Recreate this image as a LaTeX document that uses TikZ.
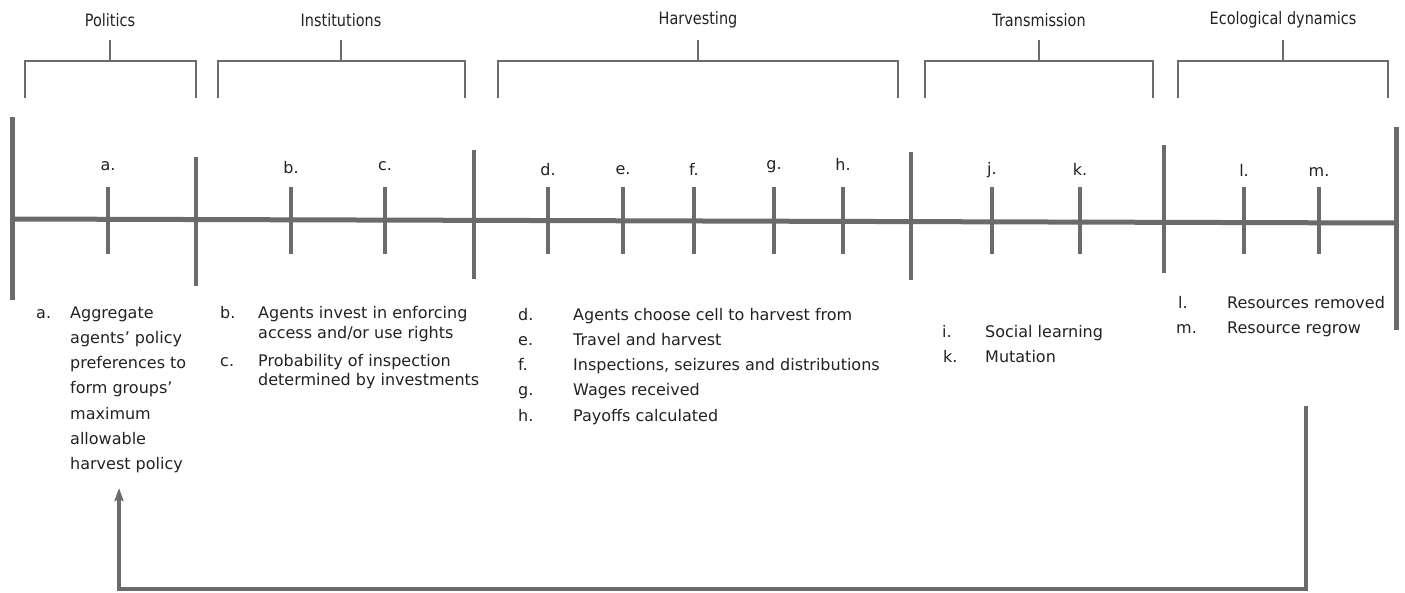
\documentclass[tikz,border=0pt]{standalone}
\usepackage{fontspec}
\setmainfont{DejaVu Sans}
\newfontfamily\titlefont[FakeStretch=0.85]{DejaVu Sans}
\usetikzlibrary{arrows.meta}
\definecolor{linegray}{RGB}{107,107,107}
\definecolor{textgray}{RGB}{34,34,34}

\begin{document}
\begin{tikzpicture}
[x=1pt,y=-1pt,
  mainline/.style={draw=linegray,line width=5pt},
  barline/.style={draw=linegray,line width=4pt},
  tickline/.style={draw=linegray,line width=3.4pt},
  bracketline/.style={draw=linegray,line width=2pt},
  returnarrow/.style={draw=linegray,line width=3.4pt,-{Stealth[length=13pt,width=9pt,inset=2pt]}},
  phasetitle/.style={text=textgray,font=\titlefont\fontsize{17}{20}\selectfont,inner sep=0pt},
  ticklabel/.style={text=textgray,font=\fontsize{16}{19}\selectfont,inner sep=0pt},
  itemlabel/.style={text=textgray,font=\fontsize{16}{19}\selectfont,anchor=base west,inner sep=0pt},
  itemtext/.style={text=textgray,font=\fontsize{16}{19}\selectfont,anchor=base west,inner sep=0pt}]
\useasboundingbox (0,0) rectangle (1405,592);
% phases and brackets
\foreach \xa/\xb/\xm/\name in {25/196/110/Politics, 218/465/341/Institutions,
    498/898/698/Harvesting, 925/1153/1039/Transmission, 1178/1388/1283/Ecological dynamics}
{
  \node[phasetitle] (phase\xm) at (\xm,20) {\name};
  \draw[bracketline] (\xa,98) |- (\xb,61) -- (\xb,98);
  \draw[bracketline] (\xm,61) -- (\xm,40);
}
% time line
\coordinate (start) at (12,219);
\coordinate (stop) at (1396,223);
\draw[mainline] (start) -- (stop);
\foreach \x/\ya/\yb in {196/157/286, 474/150/279, 911/152/280, 1164/145/273}
  \draw[barline] (\x,\ya) -- (\x,\yb);
\draw[barline,line width=5pt] (12,117) -- (12,300);
\draw[barline,line width=5pt] (1396,127) -- (1396,330);
% steps
\foreach \x/\l/\ly in {108/a/166, 291/b/168, 385/c/166, 548/d/170, 623/e/170,
    694/f/169, 774/g/167, 843/h/164, 992/j/170, 1080/k/169, 1244/l/170, 1319/m/172}
{
  \draw[tickline] (\x,187) -- (\x,254);
  \node[ticklabel] (step\l) at (\x,\ly) {\l.};
}
% politics
\node[itemlabel] (la) at (36,318) {a.};
\foreach \txt [count=\i] in {Aggregate, agents’ policy, preferences to, form groups’,
    maximum, allowable, harvest policy}
  \node[itemtext] (pa\i) at (70,{318+25.3*(\i-1)}) {\txt};
% institutions
\node[itemlabel] (lb) at (220,318) {b.};
\node[itemtext] (tb1) at (258,318) {Agents invest in enforcing};
\node[itemtext] (tb2) at (258,338) {access and/or use rights};
\node[itemlabel] (lc) at (220,366) {c.};
\node[itemtext] (tc1) at (258,366) {Probability of inspection};
\node[itemtext] (tc2) at (258,385) {determined by investments};
% harvesting
\foreach \l/\txt [count=\i] in {d/Agents choose cell to harvest from, e/Travel and harvest,
    f/{Inspections, seizures and distributions}, g/Wages received, h/Payoffs calculated}
{
  \node[itemlabel] (l\l) at (518,{320+25.3*(\i-1)}) {\l.};
  \node[itemtext] (t\l) at (573,{320+25.3*(\i-1)}) {\txt};
}
% transmission
\node[itemlabel] (li) at (942,337) {i.};
\node[itemtext] (ti) at (985,337) {Social learning};
\node[itemlabel] (lk) at (943,362) {k.};
\node[itemtext] (tk) at (985,362) {Mutation};
% ecological dynamics
\node[itemlabel] (ll) at (1178,308) {l.};
\node[itemtext] (tl) at (1227,308) {Resources removed};
\node[itemlabel] (lm) at (1176,333) {m.};
\node[itemtext] (tm) at (1227,333) {Resource regrow};
% back to politics
\coordinate (loopstart) at (1306,406);
\coordinate (loopcorner) at (119,589);
\coordinate (loopend) at (119,488);
\draw[returnarrow] (loopstart) |- (loopcorner) -- (loopend);
\end{tikzpicture}
\end{document}
